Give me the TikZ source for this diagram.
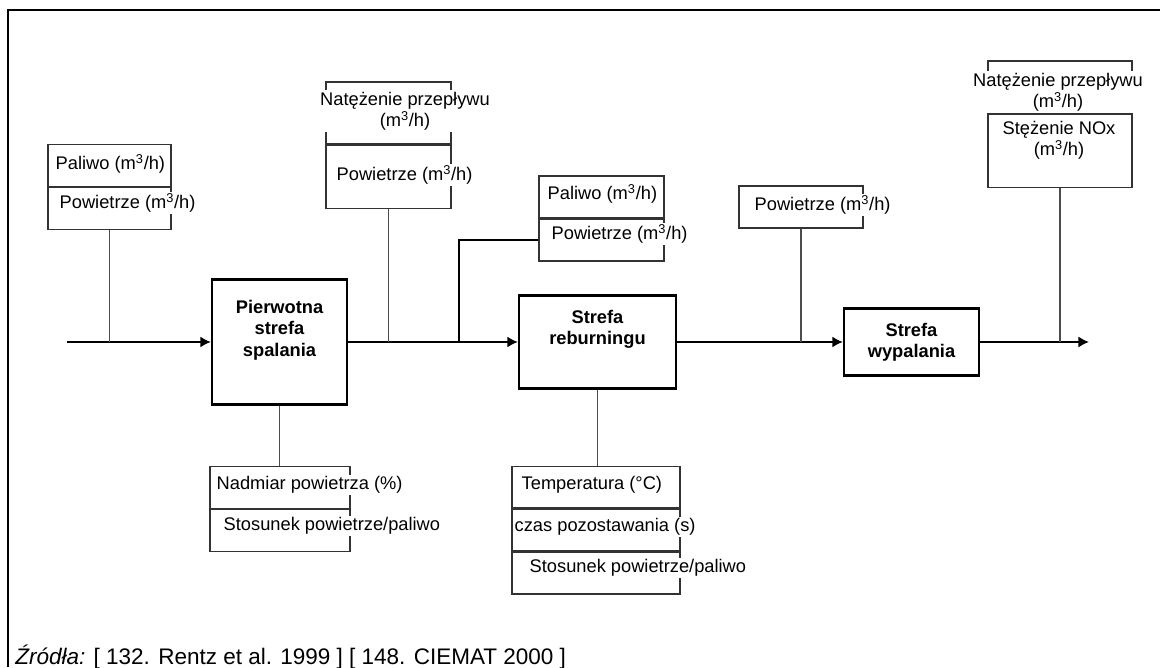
\documentclass[tikz,border=0pt]{standalone}
\usepackage{fontspec}
\setmainfont{Liberation Sans}
\usepackage{tikz}
\usetikzlibrary{arrows.meta,positioning}

\tikzset{
  zone/.style={draw,line width=1.6pt,minimum width=3.375cm,inner sep=0pt},
  zonetext/.style={font=\fontsize{13}{15.3}\selectfont\bfseries,align=center,inner sep=0pt},
  param/.style={draw=black!80,line width=1pt,inner sep=0pt,minimum height=1.04cm},
  ptext/.style={fill=white,inner sep=1pt,anchor=west},
  mainline/.style={line width=1.9pt},
  flow/.style={mainline,-{Latex[length=7.5pt,width=8pt]}},
  tap/.style={black!70,line width=1pt}
}

\begin{document}
\begin{tikzpicture}[x=0.025cm,y=-0.025cm,font=\fontsize{13}{15}\selectfont]
\useasboundingbox (0,0) rectangle (1160,667);
% frame (top and left edge only)
\draw[line width=1.2pt] (8,667) -- (8,10) -- (1160,10);

% the three zones
\node[zone,minimum height=3.125cm] (pierwotna) at (279.5,342) {};
\node[zone,minimum width=3.925cm,minimum height=2.325cm] (reburn) at (597.5,342) {};
\node[zone,minimum height=1.675cm] (wypal) at (911.5,342) {};
\node[zonetext] (pierwotnatxt) at (279.5,330) {Pierwotna\\strefa\\spalania};
\node[zonetext] (reburntxt) at (597.5,329.5) {Strefa\\reburningu};
\node[zonetext] (wypaltxt) at (911.5,342.5) {Strefa\\wypalania};

% main stream
\coordinate (in) at (67,342);
\coordinate (out) at (1089,342);
\coordinate (split) at (459,342);
\draw[flow] (in) -- (pierwotna);
\draw[flow] (pierwotna) -- (reburn);
\draw[flow] (reburn) -- (wypal);
\draw[flow] (wypal) -- (out);

% fuel and air to primary zone
\node[param,minimum width=3.075cm] (feedA) at (109.5,165.5) {};
\node[param,minimum width=3.075cm,below=0pt of feedA] (feedB) {};
\node[ptext] (feedAtxt) at (54,164) {Paliwo (m\textsuperscript{3}/h)};
\node[ptext] (feedBtxt) at (58,203) {Powietrze (m\textsuperscript{3}/h)};
\draw[tap] (feedB.south) -- (feedB.south |- in);

% flow after primary zone
\node[param,minimum width=3.125cm,minimum height=1.55cm] (flowA) at (388.5,113) {};
\node[param,minimum width=3.125cm,minimum height=1.575cm,below=0pt of flowA] (flowB) {};
\node[fill=white,inner sep=1.5pt,align=center] (flowAtxt) at (405,111) {Natężenie przepływu\\(m\textsuperscript{3}/h)};
\node[ptext] (flowBtxt) at (335,175) {Powietrze (m\textsuperscript{3}/h)};
\draw[tap] (flowB.south) -- (flowB.south |- in);

% reburning fuel
\node[param,minimum width=3.125cm] (feedC) at (601.5,197) {};
\node[param,minimum width=3.125cm,below=0pt of feedC] (feedD) {};
\node[ptext] (feedCtxt) at (546,194) {Paliwo (m\textsuperscript{3}/h)};
\node[ptext] (feedDtxt) at (550,234) {Powietrze (m\textsuperscript{3}/h)};
\draw[mainline] (feedD.west) -| (split);

% burnout air
\node[param,minimum width=3.1cm] (airE) at (801,207) {};
\node[ptext] (airEtxt) at (753,205) {Powietrze (m\textsuperscript{3}/h)};
\draw[tap] (airE.south) -- (airE.south |- in);

% flue gas
\node[param,minimum width=3.6cm,minimum height=1.3cm] (flowF) at (1060,87) {};
\node[fill=white,inner sep=1.5pt,align=center] (flowFtxt) at (1058,92) {Natężenie przepływu\\(m\textsuperscript{3}/h)};
\node[param,minimum width=3.6cm,minimum height=1.825cm,below=0pt of flowF] (flowG) {};
\node[align=center,inner sep=1pt] (flowGtxt) at (1059,140) {Stężenie NOx\\(m\textsuperscript{3}/h)};
\draw[tap] (flowG.south) -- (flowG.south |- out);

% primary zone settings
\node[param,minimum width=3.5cm] (excessA) at (280,487.5) {};
\node[param,minimum width=3.5cm,below=0pt of excessA] (excessB) {};
\node[ptext] (excessAtxt) at (215,485) {Nadmiar powietrza (\%)};
\node[ptext] (excessBtxt) at (222,526) {Stosunek powietrze/paliwo};
\draw[tap] (pierwotna.south) -- (pierwotna.south |- excessA.north);

% reburning zone settings
\node[param,minimum width=4.2cm] (tempA) at (596,487) {};
\node[param,minimum width=4.2cm,below=0pt of tempA] (tempB) {};
\node[param,minimum width=4.2cm,below=0pt of tempB] (tempC) {};
\node[ptext] (tempAtxt) at (520,485) {Temperatura (°C)};
\node[ptext] (tempBtxt) at (513,527) {czas pozostawania (s)};
\node[ptext] (tempCtxt) at (528,568) {Stosunek powietrze/paliwo};
\draw[tap] (reburn.south) -- (reburn.south |- tempA.north);

\node[anchor=west,inner sep=0pt,font=\fontsize{16}{18}\selectfont] (source) at (15,657) {\textit{Źródła:} [ 132. Rentz et al. 1999 ] [ 148. CIEMAT 2000 ]};
\end{tikzpicture}
\end{document}
